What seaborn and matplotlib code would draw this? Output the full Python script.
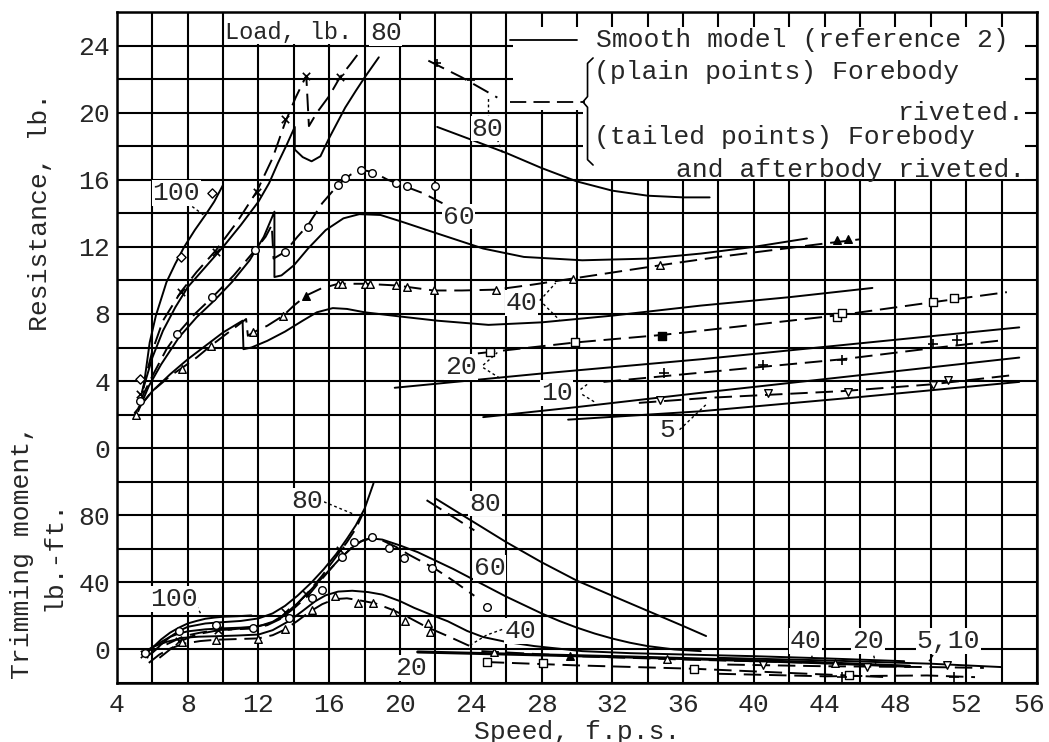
import seaborn as sns
import matplotlib.pyplot as plt
from matplotlib.patches import Rectangle
from matplotlib.transforms import ScaledTranslation

"""
Resistance and trimming moment of the riveted model against speed,
with the smooth model (reference 2) for comparison. Values read off the figure.
"""

# ---------------- resistance, lb. ----------------
res_100_speed = [5.5, 5.85, 6.2, 6.8, 7.3, 7.8, 8.4, 9.0, 9.5, 10.0]
res_100_lb = [3.6, 6.3, 7.9, 9.9, 11.0, 12.0, 13.0, 13.9, 14.7, 15.7]
res_100_pts_speed = [5.3, 7.6, 9.4]
res_100_pts_lb = [4.1, 11.4, 15.2]

res_80_solid_speed = [5.5, 6.0, 6.6, 7.3, 8.0, 9.0, 10.0, 11.0, 12.0, 12.6, 13.1, 13.6, 14.05,
                      14.05, 14.5, 15.0, 15.5, 16.0, 16.5, 16.9, 17.5, 18.0, 18.8]
res_80_solid_lb = [3.6, 5.4, 7.0, 8.4, 9.6, 10.8, 12.0, 13.3, 14.7, 15.8, 17.0, 18.1, 19.15,
                   17.8, 17.35, 17.1, 17.4, 18.5, 19.5, 20.3, 21.3, 22.1, 23.3]
res_80_dash_speed = [5.4, 6.0, 6.6, 7.6, 8.5, 9.6, 10.8, 11.9, 12.8, 13.5, 14.1, 14.7,
                     14.85, 15.3, 16.0, 16.6, 17.2, 17.7]
res_80_dash_lb = [3.3, 5.8, 7.6, 9.3, 10.5, 11.8, 13.5, 15.3, 17.3, 19.4, 20.9, 22.2,
                  19.2, 20.0, 21.0, 22.1, 22.9, 23.6]
res_80_pts_speed = [5.3, 7.6, 9.6, 11.9, 13.5, 14.7, 16.6]
res_80_pts_lb = [3.2, 9.3, 11.7, 15.3, 19.6, 22.2, 22.1]

res_80_hi_solid_speed = [22.1, 24.0, 26.0, 28.0, 30.0, 32.0, 34.0, 36.0, 37.5]
res_80_hi_solid_lb = [19.15, 18.4, 17.6, 16.7, 15.9, 15.35, 15.05, 14.95, 14.95]
res_80_hi_dash_speed = [21.6, 23.5, 25.5]
res_80_hi_dash_lb = [23.1, 22.1, 20.9]
res_80_hi_pts_speed = [22.1, 24.0]
res_80_hi_pts_lb = [22.95, 21.95]

res_60_solid_speed = [5.2, 5.8, 6.5, 7.5, 8.5, 9.5, 10.5, 11.5, 12.3, 12.9, 12.9, 13.3, 14.0,
                      14.8, 15.8, 16.8, 17.7, 18.9, 20.1, 22.1, 24.7, 27.0, 30.3, 34.0,
                      37.0, 40.0, 43.0]
res_60_solid_lb = [2.2, 3.7, 5.0, 6.6, 7.8, 8.8, 9.9, 11.2, 12.6, 14.1, 10.2, 10.3, 10.9,
                   11.9, 13.0, 13.7, 13.95, 13.9, 13.5, 12.8, 11.9, 11.4, 11.2, 11.3,
                   11.6, 12.0, 12.5]
res_60_dash_speed = [5.3, 6.0, 6.8, 7.4, 8.4, 9.4, 10.6, 11.8, 12.4, 12.75, 12.85, 13.5,
                     14.2, 14.8, 15.6, 16.5, 17.2, 17.8, 18.5, 19.3, 20.3, 21.3, 22.4]
res_60_dash_lb = [2.8, 4.3, 5.9, 6.8, 8.0, 9.0, 10.3, 11.8, 12.6, 13.3, 11.3, 11.7,
                  12.6, 13.3, 14.6, 15.7, 16.3, 16.6, 16.45, 16.0, 15.6, 15.2, 14.6]
res_60_pts_speed = [5.3, 7.4, 9.4, 11.8, 13.5, 14.8, 16.5, 16.9, 17.8, 18.4, 19.8, 20.4, 22.0]
res_60_pts_lb = [2.8, 6.8, 9.0, 11.8, 11.7, 13.2, 15.7, 16.1, 16.6, 16.4, 15.8, 15.6, 15.6]

res_40_solid_speed = [5.0, 6.0, 7.0, 8.0, 9.0, 10.0, 11.1, 11.15, 11.6, 12.5, 13.5, 14.5,
                      15.3, 16.2, 17.0, 18.0, 20.0, 22.1, 25.0, 28.0, 32.0, 37.0, 42.0, 46.7]
res_40_solid_lb = [2.1, 3.4, 4.4, 5.3, 6.1, 6.9, 7.6, 5.9, 6.0, 6.4, 6.95, 7.6,
                   8.1, 8.35, 8.3, 8.1, 7.85, 7.6, 7.35, 7.5, 7.9, 8.5, 9.0, 9.55]
res_40_dash_speed = [5.2, 6.0, 7.0, 7.7, 8.5, 9.3, 10.3, 11.3, 11.4, 11.7, 12.5, 13.4, 14.0,
                     14.7, 15.5, 16.5, 18.0, 19.8, 21.9, 23.5, 25.4, 27.5, 30.0, 32.5, 35.0,
                     38.0, 41.0, 44.0, 46.0]
res_40_dash_lb = [2.4, 3.4, 4.3, 4.8, 5.4, 6.1, 6.9, 7.7, 6.7, 6.9, 7.3, 7.9, 8.5,
                  9.1, 9.5, 9.8, 9.8, 9.7, 9.4, 9.4, 9.45, 9.75, 10.15, 10.55, 10.95,
                  11.4, 11.8, 12.2, 12.45]
res_40_pts_speed = [5.1, 7.7, 9.3, 11.7, 13.4, 16.5, 16.7, 18.0, 18.3, 19.8, 20.4, 21.9,
                    25.4, 29.8, 34.7]
res_40_pts_lb = [2.0, 4.7, 6.1, 6.9, 7.9, 9.8, 9.8, 9.8, 9.8, 9.7, 9.6, 9.4, 9.4, 10.1, 10.9]
res_40_tailed_speed = [14.7, 44.7, 45.3]
res_40_tailed_lb = [9.1, 12.4, 12.45]

res_20_solid_speed = [19.7, 28.0, 37.0, 46.0, 55.0]
res_20_solid_lb = [3.6, 4.45, 5.3, 6.25, 7.2]
res_20_dash_speed = [24.4, 29.9, 34.8, 37.0, 45.0, 50.1, 54.3]
res_20_dash_lb = [5.65, 6.3, 6.75, 7.0, 7.95, 8.7, 9.3]
res_20_pts_speed = [25.1, 29.9, 44.7, 45.0, 50.1, 51.3]
res_20_pts_lb = [5.75, 6.3, 7.8, 8.05, 8.7, 8.95]
res_20_tailed_speed = [34.8]
res_20_tailed_lb = [6.7]

res_10_solid_speed = [24.7, 30.0, 37.0, 46.0, 55.0]
res_10_solid_lb = [1.85, 2.45, 3.3, 4.35, 5.4]
res_10_dash_speed = [31.5, 37.0, 45.0, 50.0, 54.2]
res_10_dash_lb = [3.95, 4.5, 5.3, 5.95, 6.45]
res_10_pts_speed = [34.9, 40.5, 45.0, 50.1, 51.5]
res_10_pts_lb = [4.5, 4.96, 5.25, 6.2, 6.45]

res_5_solid_speed = [29.5, 37.0, 46.0, 55.0]
res_5_solid_lb = [1.7, 2.2, 3.05, 3.95]
res_5_dash_speed = [33.5, 37.4, 45.0, 50.0, 54.6]
res_5_dash_lb = [2.7, 3.0, 3.4, 3.8, 4.35]
res_5_pts_speed = [34.7, 40.8, 45.3, 50.1, 51.0]
res_5_pts_lb = [2.9, 3.3, 3.35, 3.75, 4.05]

# ---------------- trimming moment, lb.-ft. ----------------
mom_100_speed = [5.5, 6.0, 6.5, 7.0, 7.5, 8.0, 8.5, 9.0, 9.5, 10.0, 10.8, 11.6]
mom_100_lbft = [-4, 1, 6, 10, 13, 15.5, 17, 18.3, 19, 19.5, 19.8, 20.3]

mom_80_solid_speed = [6.0, 6.5, 7.0, 7.5, 8.0, 9.0, 10.0, 11.0, 12.0, 12.8, 13.5, 14.2, 15.0,
                      15.7, 16.4, 17.0, 17.5, 18.0, 18.5]
mom_80_solid_lbft = [-2, 3, 7.5, 11, 13.5, 15.5, 16.3, 17, 18.5, 21.5, 26, 32, 40,
                     48, 57, 66, 74, 84, 99]
mom_80_dash_speed = [6.4, 7.0, 7.6, 8.5, 9.5, 10.5, 11.5, 12.5, 13.3, 14.0, 14.8, 15.6,
                     16.3, 17.0, 17.5, 17.9]
mom_80_dash_lbft = [-5, 0, 5, 9, 11, 12, 13, 15, 19, 25, 34, 44, 54, 64, 72, 81]
mom_80_pts_speed = [5.5, 7.5, 9.7, 13.5, 14.7, 16.6]
mom_80_pts_lbft = [-3, 5, 11.5, 22.5, 33, 59]

mom_80_hi_solid_speed = [22.0, 24.0, 26.0, 28.0, 30.0, 32.0, 34.0, 36.0, 37.3]
mom_80_hi_solid_lbft = [90, 77, 64, 52, 41, 32, 23, 14, 8]
mom_80_hi_dash_speed = [21.5, 24.2]
mom_80_hi_dash_lbft = [89, 71]

mom_60_solid_speed = [5.5, 6.0, 6.5, 7.0, 7.5, 8.0, 9.0, 10.0, 11.0, 12.0, 12.8, 13.5, 14.2,
                      15.0, 15.8, 16.5, 17.2, 17.8, 18.3, 19.0, 20.0, 21.0, 22.0, 23.0,
                      24.0, 25.0, 26.0, 27.0, 28.0, 29.0, 30.0, 31.0, 32.0, 33.0, 34.0,
                      35.5, 37.0]
mom_60_solid_lbft = [-3, 1, 4.5, 7.5, 9.5, 10.8, 12, 12.6, 13, 13.8, 16.5, 21, 27.5,
                     36, 45, 53, 60, 64.5, 66.3, 65.5, 62, 58, 53, 48, 42.5, 37,
                     31.5, 26.5, 21.5, 17, 13, 9.5, 6.5, 4, 2, 0, -1]
mom_60_dash_speed = [5.6, 6.2, 7.0, 7.8, 8.7, 9.6, 10.6, 11.7, 12.5, 13.2, 14.0, 14.8, 15.5,
                     16.2, 16.8, 17.4, 17.9, 18.4, 19.0, 19.8, 20.5, 21.3, 22.0, 23.0, 24.2]
mom_60_dash_lbft = [-5, 0, 4, 8, 10, 11.5, 12, 12.5, 14.5, 18, 24.5, 32, 41, 49.5,
                    56, 62, 65, 66.3, 65, 61, 56.5, 52, 48, 41, 32]
mom_60_pts_speed = [5.6, 7.5, 9.6, 11.7, 13.7, 15.0, 15.6, 16.7, 17.4, 18.4, 19.4, 20.2,
                    21.8, 24.9]
mom_60_pts_lbft = [-2, 10.9, 14.5, 12.9, 18.8, 30.7, 35.7, 55.4, 64, 67.3, 60.5, 54.5,
                   48.6, 25.5]

mom_40_solid_speed = [5.4, 6.0, 6.8, 7.7, 8.6, 9.6, 10.8, 12.0, 12.8, 13.7, 14.5, 15.2, 15.8,
                      16.5, 17.3, 18.2, 19.0, 20.0, 20.8, 21.8, 22.7, 23.8, 24.7, 26.0,
                      27.6, 30.3, 33.0, 36.0, 40.0, 44.0, 48.5]
mom_40_solid_lbft = [-3, 1.5, 4.5, 6.9, 7.6, 7.9, 8.3, 8.9, 11.5, 16.8, 23, 28.7, 32.3,
                     34.5, 35, 34.2, 32.7, 28.8, 24.8, 20.5, 16.8, 11, 7.4, 4.5,
                     2, -1, -2.2, -3, -4, -5.3, -7]
mom_40_dash_speed = [5.8, 6.4, 7.0, 7.8, 8.7, 9.6, 10.8, 12.0, 12.8, 13.5, 14.2, 14.9, 15.6,
                     16.3, 17.0, 17.6, 18.6, 19.6, 20.5, 21.3, 21.9, 22.8, 23.8, 24.2]
mom_40_dash_lbft = [-8, -3, 0.5, 3.5, 5, 5.8, 6.2, 6.6, 8.5, 11.9, 17, 22.5, 27, 30,
                    30.5, 29.5, 27.5, 23.5, 19, 14.5, 11.6, 7.5, 2.7, 1]
mom_40_pts_speed = [7.7, 9.6, 12.0, 13.5, 15.0, 16.3, 17.6, 18.5, 19.6, 20.3, 21.6, 21.7]
mom_40_pts_lbft = [4.5, 5.5, 6.5, 11.9, 23.8, 31.7, 27.5, 27.7, 22.5, 17, 15.7, 10.4]

# high-speed moments, all close to zero
mom_20_solid_speed = [21.0, 27.0, 33.0, 38.0, 44.0, 48.8]
mom_20_solid_lbft = [-1.5, -3, -4.5, -6, -8, -10]
mom_5_10_solid_speed = [38.0, 44.0, 50.0, 54.0]
mom_5_10_solid_lbft = [-5, -6.5, -8.5, -10.5]
mom_40_hi_dash_speed = [24.6, 30.0, 36.0, 42.0, 45.0]
mom_40_hi_dash_lbft = [-1, -4, -6, -7.5, -8.5]
mom_40_hi_pts_speed = [25.3, 35.1, 44.6]
mom_40_hi_pts_lbft = [-1.5, -5.5, -8]
mom_40_hi_tailed_speed = [29.6]
mom_40_hi_tailed_lbft = [-4]
mom_20_hi_dash_speed = [24.9, 30.0, 36.6, 42.0, 47.5]
mom_20_hi_dash_lbft = [-7.5, -9.5, -11.5, -14, -16.5]
mom_20_hi_pts_speed = [24.9, 28.1, 36.6, 45.4]
mom_20_hi_pts_lbft = [-7.5, -8.3, -11.5, -15]
mom_5_10_dash_speed = [38.5, 44.0, 50.0, 53.0]
mom_5_10_dash_lbft = [-9, -10, -10.5, -11]
mom_5_10_pts_speed = [40.5, 46.4, 50.9]
mom_5_10_pts_lbft = [-9.3, -10.5, -9.3]
mom_10_hi_dash_speed = [38.0, 44.0, 49.8, 52.5]
mom_10_hi_dash_lbft = [-14.5, -16, -15.5, -16.5]
mom_10_hi_pts_speed = [45.0, 51.3]
mom_10_hi_pts_lbft = [-16.4, -16.4]

# ---------------- axes ----------------
speed_grid = list(range(4, 57, 2))
resistance_grid = list(range(-14, 27, 2))
resistance_ticks = [0, 4, 8, 12, 16, 20, 24]
moment_ticks = [0, 40, 80]
resistance_lim = (-14, 26)
moment_lim = (-20, 380)

DASH = (0, (9, 4))
FS = 19


def main():
    sns.set_style('white')
    plt.rcParams['font.family'] = ['Liberation Mono', 'DejaVu Sans Mono']
    plt.rcParams['font.size'] = FS

    fig = plt.figure(figsize=(10.49, 7.42), dpi=100)
    ax = fig.add_axes([0.1115, 0.0795, 0.877, 0.9043])
    axm = ax.twinx()
    setup_axes(fig, ax, axm)
    draw_resistance(ax)
    draw_moment(axm)
    draw_legend(ax)
    fig.savefig('out.png', dpi=100)


def setup_axes(fig, ax, axm):
    ax.set_xlim(4, 56)
    ax.set_ylim(*resistance_lim)
    ax.set_xticks(speed_grid)
    ax.set_xticklabels([str(v) if v % 4 == 0 else '' for v in speed_grid])
    ax.set_yticks(resistance_grid)
    ax.set_yticklabels([str(v) if v in resistance_ticks else '' for v in resistance_grid])
    ax.grid(True, color='black', lw=1.5)
    ax.set_axisbelow(True)
    ax.tick_params(length=0)
    ax.tick_params(axis='x', pad=7)
    ax.tick_params(axis='y', pad=5)
    # the last speed label sits a little inside the frame, as on the original
    last = ax.get_xticklabels()[-1]
    last.set_transform(last.get_transform() + ScaledTranslation(-0.08, 0, fig.dpi_scale_trans))
    for sp in ax.spines.values():
        sp.set_visible(True)
        sp.set_color('black')
        sp.set_linewidth(1.8)

    axm.set_ylim(*moment_lim)
    axm.yaxis.tick_left()
    axm.set_yticks(moment_ticks)
    axm.set_yticklabels([str(v) for v in moment_ticks])
    axm.tick_params(length=0, pad=5)
    axm.grid(False)
    for sp in axm.spines.values():
        sp.set_visible(False)

    # blank areas behind "Load, lb." and the key
    ax.add_patch(Rectangle((10.15, 24.1), 7.1, 1.9, fc='white', ec='none', zorder=1))
    ax.add_patch(Rectangle((26.4, 20.15), 28.95, 4.95, fc='white', ec='none', zorder=1))
    ax.add_patch(Rectangle((30.35, 16.05), 25.0, 4.2, fc='white', ec='none', zorder=1))

    fig.text(0.038, 0.714, 'Resistance, lb.', rotation=90, ha='center', va='center')
    fig.text(0.021, 0.256, 'Trimming moment,', rotation=90, ha='center', va='center')
    fig.text(0.051, 0.251, 'lb.-ft.', rotation=90, ha='center', va='center')
    fig.text(0.55, 0.014, 'Speed, f.p.s.', ha='center', va='center')


def curve(ax, speed, value, dashed=False, lw=1.4):
    sns.lineplot(x=speed, y=value, ax=ax, sort=False, estimator=None, color='black',
                 lw=lw, linestyle=DASH if dashed else '-', zorder=2)


def points(ax, speed, value, marker, filled=False, size=30):
    if marker in ('x', '+'):
        sns.scatterplot(x=speed, y=value, ax=ax, marker=marker, s=size, color='black',
                        linewidth=1.2, zorder=4, legend=False)
    else:
        sns.scatterplot(x=speed, y=value, ax=ax, marker=marker, s=size,
                        color='black' if filled else 'white', edgecolor='black',
                        linewidth=1.0, zorder=4, legend=False)


def label(ax, x, y, s, ha='center'):
    ax.text(x, y, s, ha=ha, va='center', zorder=5,
            bbox=dict(fc='white', ec='none', pad=0.5))


def leader(ax, xs, ys):
    ax.plot(xs, ys, color='black', lw=1.0, ls=(0, (2, 2)), zorder=3)


def draw_resistance(ax):
    curve(ax, res_100_speed, res_100_lb)
    points(ax, res_100_pts_speed, res_100_pts_lb, 'D', size=22)

    curve(ax, res_80_solid_speed, res_80_solid_lb)
    curve(ax, res_80_dash_speed, res_80_dash_lb, dashed=True)
    points(ax, res_80_pts_speed, res_80_pts_lb, 'x', size=28)
    curve(ax, res_80_hi_solid_speed, res_80_hi_solid_lb)
    curve(ax, res_80_hi_dash_speed, res_80_hi_dash_lb, dashed=True)
    points(ax, res_80_hi_pts_speed, res_80_hi_pts_lb, '+', size=40)

    curve(ax, res_60_solid_speed, res_60_solid_lb)
    curve(ax, res_60_dash_speed, res_60_dash_lb, dashed=True)
    points(ax, res_60_pts_speed, res_60_pts_lb, 'o')

    curve(ax, res_40_solid_speed, res_40_solid_lb)
    curve(ax, res_40_dash_speed, res_40_dash_lb, dashed=True)
    points(ax, res_40_pts_speed, res_40_pts_lb, '^')
    points(ax, res_40_tailed_speed, res_40_tailed_lb, '^', filled=True)

    curve(ax, res_20_solid_speed, res_20_solid_lb)
    curve(ax, res_20_dash_speed, res_20_dash_lb, dashed=True)
    points(ax, res_20_pts_speed, res_20_pts_lb, 's')
    points(ax, res_20_tailed_speed, res_20_tailed_lb, 's', filled=True)

    curve(ax, res_10_solid_speed, res_10_solid_lb)
    curve(ax, res_10_dash_speed, res_10_dash_lb, dashed=True)
    points(ax, res_10_pts_speed, res_10_pts_lb, '+', size=45)

    curve(ax, res_5_solid_speed, res_5_solid_lb)
    curve(ax, res_5_dash_speed, res_5_dash_lb, dashed=True)
    points(ax, res_5_pts_speed, res_5_pts_lb, 'v')

    # load labels
    ax.text(10.1, 24.75, 'Load, lb.', ha='left', va='center', zorder=5, fontsize=17)
    ax.text(18.3, 24.75, '80', ha='left', va='center', zorder=5,
            bbox=dict(fc='white', ec='none', pad=0.5))
    label(ax, 7.35, 15.2, '100')
    leader(ax, [8.0, 8.9], [14.6, 13.9])
    label(ax, 24.95, 19.05, '80')
    leader(ax, [25.0, 25.0], [19.7, 20.9])
    leader(ax, [25.5, 25.8], [18.4, 17.6])
    label(ax, 23.3, 13.8, '60')
    label(ax, 26.85, 8.65, '40')
    leader(ax, [27.9, 28.8], [8.8, 9.85])
    leader(ax, [28.1, 29.0], [8.6, 7.65])
    label(ax, 23.45, 4.85, '20')
    leader(ax, [24.7, 25.5], [4.95, 5.7])
    leader(ax, [24.7, 25.75], [4.8, 4.1])
    label(ax, 28.85, 3.3, '10')
    leader(ax, [30.2, 30.7], [3.5, 3.9])
    leader(ax, [30.3, 31.0], [3.2, 2.75])
    label(ax, 35.1, 1.1, '5')
    leader(ax, [35.8, 37.3], [1.1, 2.6])


def draw_moment(axm):
    curve(axm, mom_100_speed, mom_100_lbft)

    curve(axm, mom_80_solid_speed, mom_80_solid_lbft)
    curve(axm, mom_80_dash_speed, mom_80_dash_lbft, dashed=True)
    points(axm, mom_80_pts_speed, mom_80_pts_lbft, 'x', size=28)
    curve(axm, mom_80_hi_solid_speed, mom_80_hi_solid_lbft)
    curve(axm, mom_80_hi_dash_speed, mom_80_hi_dash_lbft, dashed=True)

    curve(axm, mom_60_solid_speed, mom_60_solid_lbft)
    curve(axm, mom_60_dash_speed, mom_60_dash_lbft, dashed=True)
    points(axm, mom_60_pts_speed, mom_60_pts_lbft, 'o')

    curve(axm, mom_40_solid_speed, mom_40_solid_lbft)
    curve(axm, mom_40_dash_speed, mom_40_dash_lbft, dashed=True)
    points(axm, mom_40_pts_speed, mom_40_pts_lbft, '^')

    curve(axm, mom_20_solid_speed, mom_20_solid_lbft, lw=2.2)
    curve(axm, mom_5_10_solid_speed, mom_5_10_solid_lbft)
    curve(axm, mom_40_hi_dash_speed, mom_40_hi_dash_lbft, dashed=True)
    points(axm, mom_40_hi_pts_speed, mom_40_hi_pts_lbft, '^')
    points(axm, mom_40_hi_tailed_speed, mom_40_hi_tailed_lbft, '^', filled=True)
    curve(axm, mom_20_hi_dash_speed, mom_20_hi_dash_lbft, dashed=True)
    points(axm, mom_20_hi_pts_speed, mom_20_hi_pts_lbft, 's')
    curve(axm, mom_5_10_dash_speed, mom_5_10_dash_lbft, dashed=True)
    points(axm, mom_5_10_pts_speed, mom_5_10_pts_lbft, 'v')
    curve(axm, mom_10_hi_dash_speed, mom_10_hi_dash_lbft, dashed=True)
    points(axm, mom_10_hi_pts_speed, mom_10_hi_pts_lbft, '+', size=45)

    label(axm, 14.75, 88.5, '80')
    leader(axm, [15.7, 17.3], [88, 81])
    label(axm, 7.2, 30, '100')
    leader(axm, [8.5, 8.8], [26, 20])
    label(axm, 24.8, 87, '80')
    label(axm, 25.05, 48.5, '60')
    label(axm, 26.8, 11, '40')
    leader(axm, [23.95, 24.9, 26.0], [2.5, 8.6, 12.8])
    label(axm, 20.6, -11, '20')
    label(axm, 42.9, 5, '40')
    leader(axm, [43.2, 43.3], [-0.5, -5])
    label(axm, 46.45, 5, '20')
    leader(axm, [46.7, 46.9], [-0.5, -9])
    label(axm, 51.0, 5, '5,10')
    leader(axm, [50.3, 49.9], [-0.5, -7])


def draw_legend(ax):
    t = ax.transAxes
    ax.plot([0.427, 0.50], [0.958, 0.958], color='black', lw=1.3, transform=t, zorder=3)
    ax.plot([0.427, 0.509], [0.866, 0.866], color='black', lw=1.3, ls=DASH,
            transform=t, zorder=3)
    # brace joining the two kinds of test points
    bx, top, mid, bot = 0.5115, 0.9315, 0.866, 0.772
    ax.plot([bx + 0.006, bx, bx, bx - 0.005, bx, bx, bx + 0.006],
            [top, top - 0.008, mid + 0.008, mid, mid - 0.008, bot + 0.008, bot],
            color='black', lw=1.2, transform=t, zorder=3)
    ax.text(0.521, 0.958, 'Smooth model (reference 2)', transform=t, ha='left', va='center')
    ax.text(0.519, 0.910, '(plain points) Forebody', transform=t, ha='left', va='center')
    ax.text(0.987, 0.850, 'riveted.', transform=t, ha='right', va='center')
    ax.text(0.519, 0.814, '(tailed points) Forebody', transform=t, ha='left', va='center')
    ax.text(0.987, 0.765, 'and afterbody riveted.', transform=t, ha='right', va='center')


if __name__ == '__main__':
    main()
